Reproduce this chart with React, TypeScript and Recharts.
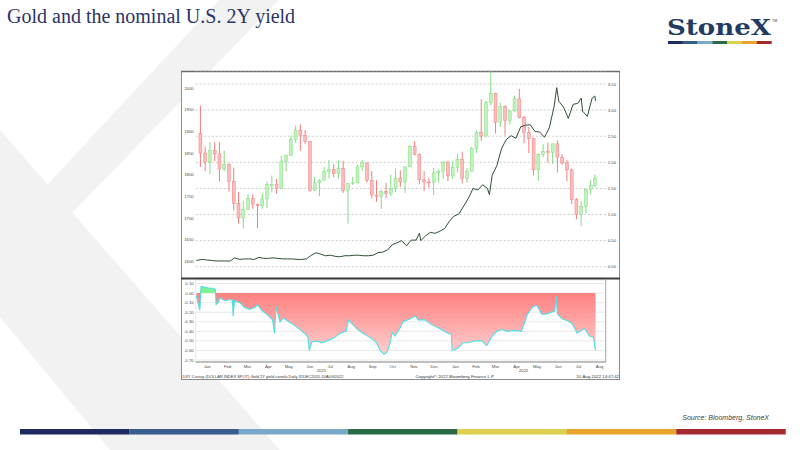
import React from 'react';
import {
  ComposedChart, Bar, Line, Area, XAxis, YAxis,
  CartesianGrid, ReferenceLine
} from 'recharts';

const DAY0 = Date.UTC(2020, 11, 31);
const toDay = (s: string) => Math.round((Date.parse(s) - DAY0) / 86400000);

// Gold spot, weekly bars (mid-week date)
const goldWeeks = [
  '2021-01-06', '2021-01-13', '2021-01-20', '2021-01-27', '2021-02-03', '2021-02-10', '2021-02-17', '2021-02-24',
  '2021-03-03', '2021-03-10', '2021-03-17', '2021-03-24', '2021-03-31', '2021-04-07', '2021-04-14', '2021-04-21',
  '2021-04-28', '2021-05-05', '2021-05-12', '2021-05-19', '2021-05-26', '2021-06-02', '2021-06-09', '2021-06-16',
  '2021-06-23', '2021-06-30', '2021-07-07', '2021-07-14', '2021-07-21', '2021-07-28', '2021-08-04', '2021-08-11',
  '2021-08-18', '2021-08-25', '2021-09-01', '2021-09-08', '2021-09-15', '2021-09-22', '2021-09-29', '2021-10-06',
  '2021-10-13', '2021-10-20', '2021-10-27', '2021-11-03', '2021-11-10', '2021-11-17', '2021-11-24', '2021-12-01',
  '2021-12-08', '2021-12-15', '2021-12-22', '2021-12-29',
  '2022-01-05', '2022-01-12', '2022-01-19', '2022-01-26', '2022-02-02', '2022-02-09', '2022-02-16', '2022-02-23',
  '2022-03-02', '2022-03-09', '2022-03-16', '2022-03-23', '2022-03-30', '2022-04-06', '2022-04-13', '2022-04-20',
  '2022-04-27', '2022-05-04', '2022-05-11', '2022-05-18', '2022-05-25', '2022-06-01', '2022-06-08', '2022-06-15',
  '2022-06-22', '2022-06-29', '2022-07-06', '2022-07-13', '2022-07-20', '2022-07-27', '2022-08-03', '2022-08-09',
];
const goldOpen = [
  1895, 1850, 1829, 1856, 1848, 1813, 1823, 1784, 1734, 1700, 1719, 1745, 1732, 1728, 1744, 1777,
  1777, 1768, 1831, 1844, 1881, 1903, 1891, 1877, 1764, 1781, 1787, 1808, 1812, 1802, 1814, 1763,
  1779, 1781, 1818, 1827, 1787, 1753, 1750, 1761, 1757, 1768, 1792, 1783, 1818, 1865, 1846, 1788,
  1783, 1782, 1804, 1808,
  1829, 1797, 1817, 1835, 1791, 1808, 1860, 1898, 1889, 1966, 1988, 1921, 1958, 1925, 1947, 1975,
  1932, 1897, 1884, 1811, 1847, 1853, 1851, 1871, 1840, 1827, 1811, 1742, 1708, 1727, 1766, 1775,
];
const goldHigh = [
  1959, 1865, 1875, 1875, 1875, 1855, 1826, 1816, 1760, 1740, 1755, 1755, 1733, 1758, 1784, 1798,
  1790, 1843, 1846, 1890, 1913, 1916, 1903, 1877, 1795, 1790, 1818, 1834, 1824, 1832, 1832, 1780,
  1795, 1823, 1834, 1828, 1808, 1787, 1765, 1781, 1800, 1814, 1810, 1818, 1868, 1877, 1849, 1808,
  1793, 1815, 1812, 1831,
  1831, 1831, 1848, 1853, 1815, 1864, 1902, 1974, 1970, 2070, 1989, 1966, 1960, 1948, 1982, 1998,
  1936, 1910, 1885, 1849, 1870, 1874, 1872, 1879, 1847, 1834, 1814, 1746, 1739, 1767, 1788, 1800,
];
const goldLow = [
  1818, 1808, 1802, 1831, 1785, 1808, 1761, 1717, 1687, 1676, 1719, 1721, 1677, 1721, 1723, 1760,
  1756, 1767, 1808, 1843, 1874, 1855, 1870, 1761, 1762, 1750, 1787, 1791, 1794, 1791, 1758, 1687,
  1776, 1780, 1809, 1782, 1745, 1737, 1721, 1746, 1750, 1760, 1772, 1758, 1817, 1845, 1778, 1762,
  1770, 1753, 1782, 1790,
  1785, 1790, 1805, 1780, 1781, 1808, 1850, 1878, 1889, 1960, 1895, 1910, 1890, 1915, 1945, 1930,
  1872, 1850, 1798, 1786, 1840, 1828, 1825, 1805, 1823, 1785, 1732, 1697, 1681, 1711, 1754, 1771,
];
const goldClose = [
  1850, 1829, 1856, 1848, 1813, 1823, 1784, 1734, 1700, 1719, 1745, 1732, 1728, 1744, 1777, 1777,
  1768, 1831, 1844, 1881, 1903, 1891, 1877, 1764, 1781, 1787, 1808, 1812, 1802, 1814, 1763, 1779,
  1781, 1818, 1827, 1787, 1753, 1750, 1761, 1757, 1768, 1792, 1783, 1818, 1865, 1846, 1788, 1783,
  1782, 1804, 1808, 1829,
  1797, 1817, 1835, 1791, 1808, 1860, 1898, 1889, 1966, 1988, 1921, 1958, 1925, 1947, 1975, 1932,
  1897, 1884, 1811, 1847, 1853, 1851, 1871, 1840, 1827, 1811, 1742, 1708, 1727, 1766, 1775, 1792,
];

// US 2Y yield (%)
const yieldDates = [
  '2020-12-31', '2021-01-08', '2021-01-15', '2021-01-22', '2021-01-29', '2021-02-05', '2021-02-12', '2021-02-19',
  '2021-02-25', '2021-03-05', '2021-03-12', '2021-03-19', '2021-03-26', '2021-04-02', '2021-04-09', '2021-04-16',
  '2021-04-23', '2021-04-30', '2021-05-07', '2021-05-14', '2021-05-21', '2021-05-28', '2021-06-04', '2021-06-11',
  '2021-06-17', '2021-06-25', '2021-07-02', '2021-07-09', '2021-07-16', '2021-07-23', '2021-07-30', '2021-08-06',
  '2021-08-13', '2021-08-20', '2021-08-27', '2021-09-03', '2021-09-10', '2021-09-17', '2021-09-24', '2021-10-01',
  '2021-10-08', '2021-10-15', '2021-10-22', '2021-10-29', '2021-11-05', '2021-11-12', '2021-11-19', '2021-11-24',
  '2021-11-26', '2021-12-03', '2021-12-10', '2021-12-17', '2021-12-24', '2021-12-31',
  '2022-01-07', '2022-01-14', '2022-01-21', '2022-01-28', '2022-02-04', '2022-02-11', '2022-02-18', '2022-02-25',
  '2022-03-04', '2022-03-07', '2022-03-11', '2022-03-18', '2022-03-25', '2022-04-01', '2022-04-08', '2022-04-15',
  '2022-04-22', '2022-04-29', '2022-05-06', '2022-05-13', '2022-05-20', '2022-05-27', '2022-06-03', '2022-06-10',
  '2022-06-14', '2022-06-17', '2022-06-24', '2022-07-01', '2022-07-08', '2022-07-15', '2022-07-20', '2022-07-22',
  '2022-07-29', '2022-08-05', '2022-08-09', '2022-08-10',
];
const yieldValues = [
  0.12, 0.14, 0.13, 0.12, 0.11, 0.11, 0.11, 0.11,
  0.17, 0.14, 0.15, 0.15, 0.14, 0.18, 0.16, 0.16,
  0.17, 0.16, 0.15, 0.15, 0.15, 0.14, 0.14, 0.15,
  0.21, 0.27, 0.24, 0.21, 0.22, 0.20, 0.19, 0.21,
  0.21, 0.22, 0.22, 0.21, 0.21, 0.22, 0.27, 0.28,
  0.32, 0.42, 0.46, 0.50, 0.40, 0.51, 0.51, 0.64,
  0.50, 0.59, 0.66, 0.64, 0.68, 0.73,
  0.87, 0.97, 1.01, 1.16, 1.31, 1.50, 1.47, 1.57,
  1.50, 1.38, 1.75, 1.94, 2.27, 2.44, 2.51, 2.46,
  2.68, 2.71, 2.72, 2.59, 2.58, 2.48, 2.66, 3.06,
  3.43, 3.17, 3.06, 2.84, 3.11, 3.13, 3.23, 2.98,
  2.88, 3.23, 3.27, 3.18,
];

// Gold / 2Y yield rolling correlation
const corrDates = [
  '2020-12-31', '2021-01-05', '2021-01-07', '2021-01-13', '2021-01-19', '2021-01-25', '2021-01-28', '2021-01-29',
  '2021-02-01', '2021-02-04', '2021-02-11', '2021-02-18', '2021-02-22', '2021-02-23', '2021-02-25', '2021-03-05',
  '2021-03-12', '2021-03-19', '2021-03-27', '2021-03-31', '2021-04-06', '2021-04-15', '2021-04-22', '2021-04-25',
  '2021-04-27', '2021-05-03', '2021-05-08', '2021-05-16', '2021-05-23', '2021-06-01', '2021-06-08', '2021-06-13',
  '2021-06-15', '2021-06-19', '2021-06-27', '2021-07-03', '2021-07-11', '2021-07-18', '2021-07-25', '2021-07-31',
  '2021-08-08', '2021-08-12', '2021-08-18', '2021-08-25', '2021-09-02', '2021-09-09', '2021-09-16', '2021-09-22',
  '2021-09-27', '2021-10-03', '2021-10-07', '2021-10-12', '2021-10-15', '2021-10-19', '2021-10-27', '2021-10-31',
  '2021-11-10', '2021-11-18', '2021-11-22', '2021-12-02', '2021-12-12', '2021-12-21', '2021-12-31',
  '2022-01-05', '2022-01-10', '2022-01-11', '2022-01-19', '2022-01-27', '2022-02-03', '2022-02-14', '2022-02-24',
  '2022-03-03', '2022-03-11', '2022-03-18', '2022-03-25', '2022-04-03', '2022-04-13', '2022-04-23', '2022-04-28',
  '2022-05-02', '2022-05-10', '2022-05-16', '2022-05-23', '2022-05-30', '2022-06-06', '2022-06-11', '2022-06-13',
  '2022-06-15', '2022-06-22', '2022-06-30', '2022-07-07', '2022-07-14', '2022-07-20', '2022-07-25', '2022-08-01',
  '2022-08-07', '2022-08-10',
];
const corrValues = [
  -0.03, -0.18, 0.07, 0.06, 0.05, 0.05, 0.04, -0.12,
  -0.10, -0.05, -0.08, -0.07, -0.07, -0.24, -0.08, -0.10,
  -0.15, -0.17, -0.15, -0.12, -0.18, -0.23, -0.28, -0.42,
  -0.14, -0.30, -0.26, -0.30, -0.33, -0.38, -0.42, -0.46,
  -0.60, -0.51, -0.50, -0.52, -0.50, -0.48, -0.45, -0.42,
  -0.40, -0.28, -0.33, -0.38, -0.42, -0.45, -0.48, -0.52,
  -0.60, -0.64, -0.62, -0.52, -0.41, -0.45, -0.36, -0.30,
  -0.27, -0.24, -0.28, -0.28, -0.33, -0.36, -0.40,
  -0.42, -0.43, -0.60, -0.58, -0.52, -0.52, -0.50, -0.50,
  -0.55, -0.45, -0.40, -0.38, -0.40, -0.39, -0.40, -0.30,
  -0.22, -0.14, -0.13, -0.22, -0.22, -0.20, -0.19, -0.03,
  -0.22, -0.27, -0.29, -0.32, -0.42, -0.39, -0.37, -0.45,
  -0.46, -0.60,
];

const goldTicks = [1600, 1650, 1700, 1750, 1800, 1850, 1900, 1950, 2000];
const yieldTicks = [0, 0.5, 1, 1.5, 2, 2.5, 3, 3.5];
const corrTicks = [0.1, 0, -0.1, -0.2, -0.3, -0.4, -0.5, -0.6, -0.7];

const monthStarts = [
  '2021-01-01', '2021-02-01', '2021-03-01', '2021-04-01', '2021-05-01', '2021-06-01', '2021-07-01',
  '2021-08-01', '2021-09-01', '2021-10-01', '2021-11-01', '2021-12-01', '2022-01-01', '2022-02-01',
  '2022-03-01', '2022-04-01', '2022-05-01', '2022-06-01', '2022-07-01', '2022-08-01',
];
const monthMids = [
  '2021-01-16', '2021-02-15', '2021-03-16', '2021-04-16', '2021-05-16', '2021-06-16', '2021-07-16',
  '2021-08-16', '2021-09-16', '2021-10-16', '2021-11-16', '2021-12-16', '2022-01-16', '2022-02-15',
  '2022-03-16', '2022-04-16', '2022-05-16', '2022-06-16', '2022-07-16', '2022-08-16',
];
const monthLabels = [
  'Jan', 'Feb', 'Mar', 'Apr', 'May', 'Jun', 'Jul', 'Aug', 'Sep', 'Oct', 'Nov', 'Dec',
  'Jan', 'Feb', 'Mar', 'Apr', 'May', 'Jun', 'Jul', 'Aug',
];
const yearMids = ['2021-07-03', '2022-04-26'];
const yearLabels = ['2021', '2022'];

const logoColors = ['#1f2a5e', '#365d8c', '#7aa8c9', '#2a6b47', '#dcd04e', '#e8a52c', '#a52a30'];

const X_DOMAIN = [-1, 602];
const tickFont = { fontSize: 4.3, fill: '#4a4a4a', fontFamily: 'Liberation Sans' };

const upperRows = (() => {
  const m = new Map<number, any>();
  const row = (d: number) => {
    if (!m.has(d)) m.set(d, { d });
    return m.get(d);
  };
  goldWeeks.forEach((s, i) => {
    const r = row(toDay(s));
    r.o = goldOpen[i]; r.h = goldHigh[i]; r.l = goldLow[i]; r.c = goldClose[i];
    r.range = [goldLow[i], goldHigh[i]];
  });
  yieldDates.forEach((s, i) => { row(toDay(s)).y = yieldValues[i]; });
  return [...m.values()].sort((a, b) => a.d - b.d);
})();

const corrRows = corrDates.map((s, i) => ({
  d: toDay(s),
  c: corrValues[i],
  neg: Math.min(corrValues[i], 0),
  pos: Math.max(corrValues[i], 0),
}));

const Candle = (p: any) => {
  const r = p.payload;
  if (!r || r.h == null || !isFinite(p.y) || !isFinite(p.height)) return <g />;
  const top = Math.min(p.y, p.y + p.height);
  const span = Math.abs(p.height);
  const k = span / (r.h - r.l);
  const cx = p.x + p.width / 2;
  const yo = top + (r.h - r.o) * k;
  const yc = top + (r.h - r.c) * k;
  const up = r.c >= r.o;
  const wick = up ? '#74d874' : '#f07070';
  const body = up ? '#bff3b9' : '#fbbcbc';
  return (
    <g>
      <line x1={cx} x2={cx} y1={top} y2={top + span} stroke={wick} strokeWidth={0.9} />
      <rect x={cx - 1.5} y={Math.min(yo, yc)} width={3} height={Math.max(Math.abs(yc - yo), 0.8)}
        fill={body} stroke={wick} strokeWidth={0.4} />
    </g>
  );
};

function PricePanel() {
  return (
    <ComposedChart width={439} height={207} data={upperRows} margin={{ top: 0, right: 0, bottom: 0, left: 0 }}>
      <CartesianGrid yAxisId="r" vertical={false} stroke="#b5b5b5" strokeDasharray="2 2" strokeWidth={0.7} />
      <XAxis type="number" dataKey="d" domain={X_DOMAIN} hide />
      <YAxis yAxisId="g" orientation="left" type="number" domain={[1561.5, 2039.2]} ticks={goldTicks}
        allowDataOverflow width={14.7} tickSize={0} tickMargin={2} axisLine={false} tickLine={false}
        tick={tickFont} interval={0} />
      <YAxis yAxisId="r" orientation="right" type="number" domain={[-0.216, 3.749]} ticks={yieldTicks}
        allowDataOverflow width={14.3} tickSize={0} tickMargin={2} axisLine={false} tickLine={false}
        tick={tickFont} interval={0} tickFormatter={(v: number) => v.toFixed(2)} />
      <Bar yAxisId="g" dataKey="range" barSize={4} shape={Candle} isAnimationActive={false} />
      <Line yAxisId="r" dataKey="y" connectNulls dot={false} stroke="#2e5035" strokeWidth={1}
        isAnimationActive={false} />
    </ComposedChart>
  );
}

function CorrelationPanel() {
  return (
    <ComposedChart width={439} height={96} data={corrRows} margin={{ top: 1, right: 14.3, bottom: 0, left: 0 }}>
      <defs>
        <linearGradient id="corrFill" x1="0" y1="0" x2="0" y2="1">
          <stop offset="0%" stopColor="#ff7a7a" stopOpacity={0.95} />
          <stop offset="100%" stopColor="#ffcdcd" stopOpacity={0.95} />
        </linearGradient>
      </defs>
      <CartesianGrid stroke="#dcdcdc" strokeWidth={0.6} />
      <XAxis type="number" dataKey="d" domain={X_DOMAIN} ticks={monthStarts.map(toDay)} tick={false}
        tickSize={3} height={1} axisLine={{ stroke: '#8a8a8a' }} tickLine={{ stroke: '#bdbdbd' }} interval={0} />
      <XAxis xAxisId="lbl" type="number" dataKey="d" domain={X_DOMAIN} ticks={monthMids.map(toDay)}
        tickFormatter={(_v: number, i: number) => monthLabels[i]} axisLine={false} tickLine={false}
        tickSize={0} tickMargin={2} height={6} tick={tickFont} interval={0} />
      <XAxis xAxisId="yr" type="number" dataKey="d" domain={X_DOMAIN} ticks={yearMids.map(toDay)}
        tickFormatter={(_v: number, i: number) => yearLabels[i]} axisLine={false} tickLine={false}
        tickSize={0} tickMargin={0} height={6} tick={tickFont} interval={0} />
      <YAxis type="number" domain={[-0.721, 0.137]} ticks={corrTicks} allowDataOverflow width={14.7}
        tickSize={0} tickMargin={2} axisLine={false} tickLine={false} tick={tickFont} interval={0}
        tickFormatter={(v: number) => v.toFixed(2)} />
      <Area dataKey="neg" baseValue={0} fill="url(#corrFill)" fillOpacity={1} stroke="none"
        isAnimationActive={false} />
      <Area dataKey="pos" baseValue={0} fill="#80f296" fillOpacity={1} stroke="none" isAnimationActive={false} />
      <Line dataKey="c" dot={false} stroke="#4fe0e6" strokeWidth={1.1} isAnimationActive={false} />
      <ReferenceLine x={X_DOMAIN[1]} stroke="#9a9a9a" strokeWidth={0.8} />
    </ComposedChart>
  );
}

export default function App() {
  return (
    <div style={{ position: 'fixed', left: 0, top: 0, width: 800, height: 450, background: '#fff', overflow: 'hidden' }}>
      <svg width={800} height={450} style={{ position: 'absolute', left: 0, top: 0 }}>
        {/* watermark */}
        <polygon points="219,0 279,0 72,213 47,185" fill="#f2f2f2" />
        <polygon points="0,130 280,450 110,450 0,317" fill="#f2f2f2" />

        <text x={7} y={23.3} fontFamily="Liberation Serif" fontSize={20} fill="#2b3468">
          Gold and the nominal U.S. 2Y yield
        </text>

        {/* logo */}
        <text x={667} y={35} fontFamily="DejaVu Serif" fontWeight="bold" fontSize={23} fill="#213b63"
          textLength={104} lengthAdjust="spacingAndGlyphs">StoneX</text>
        <text x={772} y={22} fontFamily="Liberation Sans" fontSize={3.5} fill="#213b63">TM</text>
        {logoColors.map((c, i) => (
          <rect key={i} x={668 + i * 14.8} y={41} width={14.9} height={3} fill={c} />
        ))}

        <text x={769} y={419.5} textAnchor="end" fontFamily="Liberation Sans" fontStyle="italic"
          fontSize={7} fill="#404040">Source: Bloomberg, StoneX</text>

        {logoColors.map((c, i) => (
          <rect key={'b' + i} x={20 + i * 109.37} y={429} width={109.5} height={5.5} fill={c} />
        ))}

        <rect x={181.5} y={71.5} width={438} height={308} fill="#fff" stroke="#8c8c8c" />
        <line x1={181} x2={620} y1={71.5} y2={71.5} stroke="#6a6a6a" strokeWidth={1.5} />
      </svg>

      <div style={{ position: 'absolute', left: 181, top: 71 }}>
        <PricePanel />
      </div>
      <div style={{ position: 'absolute', left: 181, top: 279 }}>
        <CorrelationPanel />
      </div>

      <svg width={800} height={450} style={{ position: 'absolute', left: 0, top: 0, pointerEvents: 'none' }}>
        <line x1={181} x2={620} y1={278.5} y2={278.5} stroke="#3c3c3c" strokeWidth={2} />
        <text x={182.5} y={378} fontFamily="Liberation Sans" fontSize={4.3} fill="#333"
          textLength={161} lengthAdjust="spacingAndGlyphs">
          DXY Curncy (DOLLAR INDEX SPOT) Gold 2Y yield correla  Daily 31DEC2020-10AUG2022
        </text>
        <text x={455} y={378} textAnchor="middle" fontFamily="Liberation Sans" fontSize={4.3} fill="#333">
          Copyright© 2022 Bloomberg Finance L.P.
        </text>
        <text x={619} y={378} textAnchor="end" fontFamily="Liberation Sans" fontSize={4.3} fill="#333">
          10-Aug-2022 14:47:42
        </text>
      </svg>
    </div>
  );
}
